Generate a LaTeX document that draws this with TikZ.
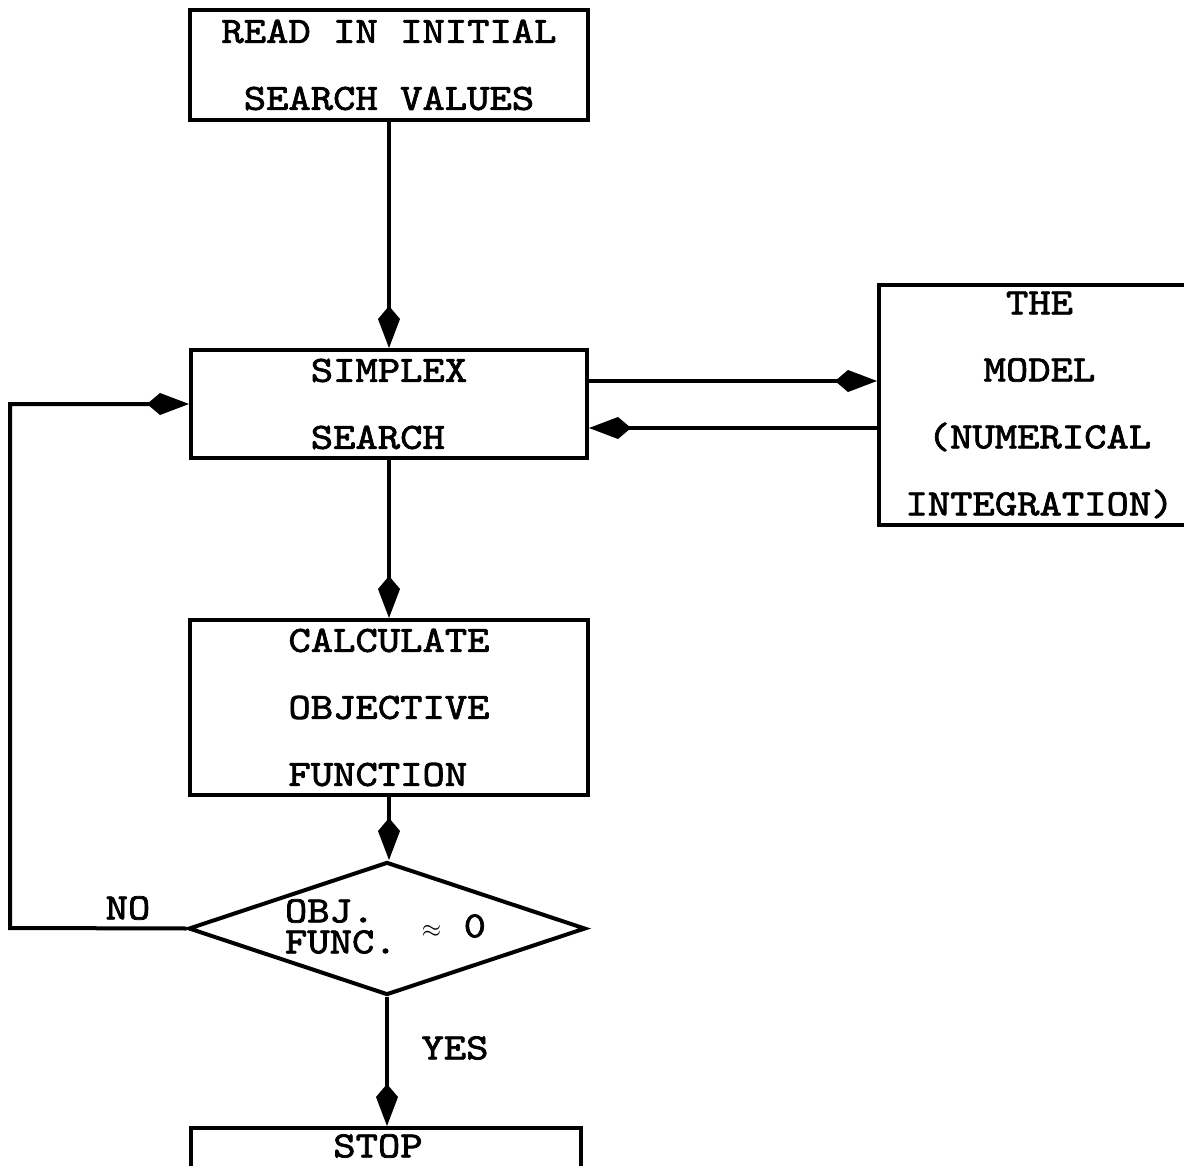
\documentclass[tikz,border=0pt]{standalone}
\usepackage{fontspec}
\newfontfamily\tw{lmmono10-regular.otf}[FakeStretch=1.15,FakeBold=2]
\usetikzlibrary{arrows.meta,shapes.geometric,calc}
\begin{document}
\begin{tikzpicture}[x=1pt,y=-1pt,line width=4pt,
  every node/.style={font=\tw\fontsize{37}{67}\selectfont},
  box/.style={draw,rectangle,inner sep=0pt,line width=4pt},
  lbl/.style={inner sep=0pt},
  arr/.style={-{Kite[length=42pt,width=22pt,inset=13pt]}}]
\clip (0,0) rectangle (1184,1166);
\fill[white] (0,0) rectangle (1184,1166);
\node[box,minimum width=398,minimum height=110,align=center] (read) at (389,65) {READ IN INITIAL\\SEARCH VALUES};
\node[box,minimum width=396,minimum height=108,align=left] (simp) at (389,404) {SIMPLEX\\SEARCH};
\node[box,minimum width=321,minimum height=240,align=center] (model) at (1039.5,405) {THE\\MODEL\\(NUMERICAL\\INTEGRATION)};
\node[box,minimum width=398,minimum height=175,align=left] (calc) at (389,707.5) {CALCULATE\\OBJECTIVE\\FUNCTION};
\node[draw,diamond,minimum width=397,minimum height=133,inner sep=0pt] (dia) at (387,928.5) {};
\node[lbl,anchor=west] (obj) at (283,911) {OBJ.};
\node[lbl,anchor=west] (func) at (283,942) {FUNC.};
\node[lbl] (approx) at (454,926) {$\approx$ 0};
\node[lbl] (no) at (128,908) {NO};
\node[lbl] (yes) at (455,1048) {YES};
\node[box,minimum width=390,minimum height=60] (stop) at (386,1158) {};
\node[lbl] (stoptxt) at (378,1146) {STOP};
\draw[arr] (read.south) -- (read.south |- simp.north);
\draw[arr] (simp.south) -- (simp.south |- calc.north);
\draw[arr] (calc.south) -- (calc.south |- dia.north);
\draw[arr] (dia.south) -- (dia.south |- stop.north);
\coordinate (o1) at ($(simp.east)+(0,-23)$);
\draw[arr] (o1) -- (o1 -| model.west);
\coordinate (o2) at ($(simp.east)+(0,24)$);
\draw[arr] (o2 -| model.west) -- (o2);
\coordinate (loop) at (10,928);
\draw[arr] (dia.west) -- (loop) |- (simp.west);
\end{tikzpicture}
\end{document}
